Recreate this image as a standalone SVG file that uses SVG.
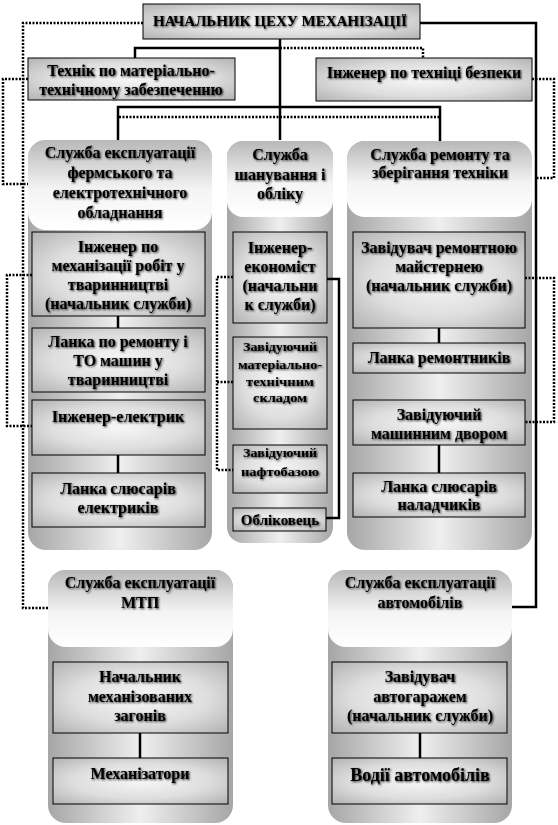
<svg xmlns="http://www.w3.org/2000/svg" width="558" height="825" viewBox="0 0 558 825">
<defs>
<linearGradient id="colBody" x1="0" y1="0" x2="1" y2="0">
<stop offset="0" stop-color="#a6a6a6"/><stop offset="0.5" stop-color="#efefef"/><stop offset="1" stop-color="#a6a6a6"/>
</linearGradient>
<linearGradient id="colHead" x1="0" y1="0" x2="0" y2="1">
<stop offset="0" stop-color="#b8b8b8"/><stop offset="0.55" stop-color="#f4f4f4"/><stop offset="1" stop-color="#ffffff"/>
</linearGradient>
<radialGradient id="boxG" cx="0.5" cy="0.5" r="0.7">
<stop offset="0" stop-color="#f7f7f7"/><stop offset="0.55" stop-color="#dedede"/><stop offset="1" stop-color="#b2b2b2"/>
</radialGradient>
<filter id="ts" x="-5%" y="-20%" width="110%" height="140%">
<feGaussianBlur in="SourceAlpha" stdDeviation="0.9"/>
<feOffset dx="0.7" dy="0.9"/>
<feComponentTransfer><feFuncA type="linear" slope="0.85"/></feComponentTransfer>
<feMerge><feMergeNode/><feMergeNode in="SourceGraphic"/></feMerge>
</filter>
</defs>
<style>
text{font-family:"Liberation Serif","Times New Roman",serif;font-weight:bold;fill:#000;text-anchor:middle;font-size:16px;filter:url(#ts)}
.s12{font-size:12px}
.s15{font-size:15px}
.s18{font-size:18px}
.box{fill:url(#boxG);stroke:#000;stroke-width:1}
.body{fill:url(#colBody)}
.head{fill:url(#colHead)}
.solid{fill:none;stroke:#000;stroke-width:2.5}
.dot{fill:none;stroke:#000;stroke-width:2.5;stroke-dasharray:2 1.5}
</style>

<g id="connectors">
<path class="solid" d="M280,39V140"/>
<path class="solid" d="M135,58V48H280"/>
<path class="solid" d="M118,141V107H440V141"/>
<path class="solid" d="M420,23H536V607H512"/>
<path class="dot" d="M280,48H423V58"/>
<path class="dot" d="M119,117H439"/>
<path class="dot" d="M143,23H23V608H48"/>
<path class="dot" d="M28,79H3V184H28"/>
<path class="dot" d="M532,79H554V178H536"/>
</g>

<g id="boss"><rect class="box" x="143" y="4" width="277" height="35"/><text class="s15" x="280" y="26">НАЧАЛЬНИК ЦЕХУ МЕХАНІЗАЦІЇ</text></g>
<g id="tekhnik"><rect class="box" x="28" y="58" width="207" height="42"/><text x="131" y="76">Технік по матеріально-</text><text x="131" y="95">технічному забезпеченню</text></g>
<g id="bezpeka"><rect class="box" x="316" y="58" width="216" height="43"/><text x="424" y="78">Інженер по техніці безпеки</text></g>

<g id="col-ferm">
<rect class="body" x="28" y="140" width="184" height="410" rx="18"/>
<rect class="head" x="28" y="140" width="184" height="90" rx="18"/>
<text x="120" y="158">Служба експлуатації</text>
<text x="120" y="178">фермського та</text>
<text x="120" y="198">електротехнічного</text>
<text x="120" y="218">обладнання</text>
</g>
<g id="col-oblik">
<rect class="body" x="227" y="141" width="106" height="402" rx="16"/>
<rect class="head" x="227" y="141" width="106" height="76" rx="16"/>
<text x="280" y="160">Служба</text>
<text x="280" y="180">шанування  і</text>
<text x="280" y="199">обліку</text>
</g>
<g id="col-remont">
<rect class="body" x="347" y="141" width="185" height="409" rx="18"/>
<rect class="head" x="347" y="141" width="185" height="76" rx="18"/>
<text x="440" y="160">Служба ремонту та</text>
<text x="440" y="178">зберігання техніки</text>
</g>
<g id="col-mtp">
<rect class="body" x="48" y="570" width="185" height="253" rx="18"/>
<rect class="head" x="48" y="570" width="185" height="77" rx="18"/>
<text x="140" y="588">Служба експлуатації</text>
<text x="140" y="608">МТП</text>
</g>
<g id="col-avto">
<rect class="body" x="328" y="570" width="184" height="253" rx="18"/>
<rect class="head" x="328" y="570" width="184" height="77" rx="18"/>
<text x="420" y="588">Служба експлуатації</text>
<text x="420" y="608">автомобілів</text>
</g>

<g id="inner-connectors">
<path class="solid" d="M118,316V328M118,455V473"/>
<path class="solid" d="M439,328V343M439,445V473"/>
<path class="solid" d="M327,279H339V518H326"/>
<path class="solid" d="M140,733V758M420,733V758"/>
<path class="dot" d="M32,275H7V426H32"/>
<path class="dot" d="M233,277H217V470H233M217,382H233"/>
<path class="dot" d="M525,278H554V422H525"/>
</g>

<g id="l1"><rect class="box" x="32" y="232" width="173" height="84"/>
<text x="118" y="252">Інженер по</text><text x="118" y="271">механізації робіт у</text><text x="118" y="290">тваринництві</text><text x="118" y="309">(начальник  служби)</text></g>
<g id="l2"><rect class="box" x="32" y="328" width="173" height="64"/>
<text x="118" y="347">Ланка по ремонту і</text><text x="118" y="366">ТО машин у</text><text x="118" y="385">тваринництві</text></g>
<g id="l3"><rect class="box" x="32" y="400" width="173" height="55"/>
<text x="118" y="422">Інженер-електрик</text></g>
<g id="l4"><rect class="box" x="32" y="473" width="173" height="54"/>
<text x="118" y="494">Ланка слюсарів</text><text x="118" y="513">електриків</text></g>

<g id="m1"><rect class="box" x="233" y="232" width="94" height="91"/>
<text x="280" y="253">Інженер-</text><text x="280" y="272">економіст</text><text x="280" y="291">(начальни</text><text x="280" y="310">к служби)</text></g>
<g id="m2"><rect class="box" x="233" y="337" width="94" height="92"/>
<text class="s12" x="280" y="351" textLength="74" lengthAdjust="spacingAndGlyphs">Завідуючий</text><text class="s12" x="280" y="369" textLength="84" lengthAdjust="spacingAndGlyphs">матеріально-</text><text class="s12" x="280" y="386" textLength="68" lengthAdjust="spacingAndGlyphs">технічним</text><text class="s12" x="280" y="402" textLength="54" lengthAdjust="spacingAndGlyphs">складом</text></g>
<g id="m3"><rect class="box" x="233" y="445" width="94" height="48"/>
<text class="s12" x="280" y="457" textLength="74" lengthAdjust="spacingAndGlyphs">Завідуючий</text><text class="s12" x="280" y="476" textLength="78" lengthAdjust="spacingAndGlyphs">нафтобазою</text></g>
<g id="m4"><rect class="box" x="233" y="508" width="93" height="23"/>
<text class="s15" x="280" y="525">Обліковець</text></g>

<g id="r1"><rect class="box" x="353" y="232" width="172" height="96"/>
<text x="439" y="253">Завідувач ремонтною</text><text x="439" y="272">майстернею</text><text x="439" y="291">(начальник  служби)</text></g>
<g id="r2"><rect class="box" x="353" y="343" width="172" height="30"/>
<text x="439" y="363">Ланка ремонтників</text></g>
<g id="r3"><rect class="box" x="353" y="400" width="172" height="45"/>
<text x="439" y="420">Завідуючий</text><text x="439" y="439">машинним  двором</text></g>
<g id="r4"><rect class="box" x="353" y="473" width="172" height="44"/>
<text x="439" y="492">Ланка слюсарів</text><text x="439" y="510">наладчиків</text></g>

<g id="b1"><rect class="box" x="53" y="662" width="175" height="71"/>
<text x="140" y="682">Начальник</text><text x="140" y="702">механізованих</text><text x="140" y="721">загонів</text></g>
<g id="b2"><rect class="box" x="53" y="758" width="175" height="46"/>
<text x="140" y="779">Механізатори</text></g>
<g id="b3"><rect class="box" x="332" y="662" width="175" height="71"/>
<text x="420" y="682">Завідувач</text><text x="420" y="702">автогаражем</text><text x="420" y="721">(начальник  служби)</text></g>
<g id="b4"><rect class="box" x="332" y="758" width="175" height="46"/>
<text class="s18" x="420" y="781">Водії автомобілів</text></g>
</svg>
